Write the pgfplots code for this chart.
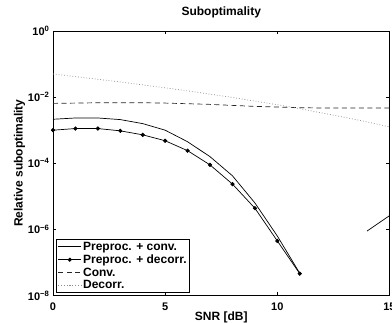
\documentclass[border=0pt]{standalone}
\usepackage{fontspec}
\setmainfont{Liberation Sans}
\usepackage{pgfplots}
\pgfplotsset{compat=1.18}
\begin{document}
\begin{tikzpicture}
\begin{axis}[
  scale only axis, width=336.5pt, height=264.5pt,
  ymode=log, xmin=0, xmax=15, ymin=1e-8, ymax=1,
  xtick={0,5,10,15}, xticklabels={0,5,10,15},
  ytick={1e-8,1e-6,1e-4,1e-2,1},
  yticklabels={10\textsuperscript{−8},10\textsuperscript{−6},10\textsuperscript{−4},10\textsuperscript{−2},10\textsuperscript{0}},
  minor y tick style={draw=none},
  tick align=inside, major tick length=3.5pt,
  tick style={black, line width=0.6pt},
  axis line style={line width=0.9pt},
  ticklabel style={font=\bfseries\fontsize{11}{13}\selectfont},
  xticklabel style={anchor=base, yshift=-15.2pt},
  title={Suboptimality},
  title style={font=\bfseries\fontsize{12}{14}\selectfont, at={(axis description cs:0.5,1)}, anchor=base, yshift=9.3pt},
  xlabel={SNR [dB]},
  xlabel style={font=\bfseries\fontsize{12}{14}\selectfont, at={(axis description cs:0.5,0)}, anchor=base, yshift=-25.3pt},
  ylabel={Relative suboptimality},
  ylabel style={font=\bfseries\fontsize{12}{14}\selectfont, at={(axis description cs:-0.09,0.5)}, anchor=base, rotate=0},
  legend style={at={(axis description cs:0.009,0.01)}, anchor=south west, draw=black, line width=0.8pt,
    font=\bfseries\fontsize{12}{14}\selectfont, inner xsep=1.5pt, inner ysep=0.5pt, row sep=0pt,
    nodes={inner sep=1.5pt}},
  legend cell align=left,
  legend image code/.code={\draw[mark repeat=2,mark phase=2,#1] plot coordinates {(0pt,0pt) (11.5pt,0pt) (23pt,0pt)};},
  unbounded coords=jump,
]
\addplot[black, line width=0.7pt] coordinates {
 (0,2.14e-3) (1,2.34e-3) (2,2.34e-3) (3,2.09e-3) (4,1.58e-3) (5,1.0e-3)
 (6,4.47e-4) (7,1.58e-4) (8,4.17e-5) (9,6.3e-6) (10,6.3e-7) (11,4.68e-8)
 (12,nan) (13,nan) (14,8.9e-7) (15,2.6e-6)};
\addlegendentry{Preproc. + conv.}
\addplot[black, line width=0.7pt, mark=*, mark size=1.7pt] coordinates {
 (0,1.0e-3) (1,1.12e-3) (2,1.12e-3) (3,9.55e-4) (4,7.24e-4) (5,4.79e-4)
 (6,2.40e-4) (7,8.91e-5) (8,2.34e-5) (9,4.37e-6) (10,4.47e-7) (11,4.57e-8)};
\addlegendentry{Preproc. + decorr.}
\addplot[black!85, line width=0.7pt, dash pattern=on 5pt off 3.5pt] coordinates {
 (0,6.46e-3) (1,6.6e-3) (2,6.76e-3) (3,6.76e-3) (4,6.76e-3) (5,6.6e-3)
 (6,6.31e-3) (7,6.03e-3) (8,5.62e-3) (9,5.25e-3) (10,5.01e-3) (11,4.79e-3)
 (12,4.68e-3) (13,4.68e-3) (14,4.68e-3) (15,4.68e-3)};
\addlegendentry{Conv.}
\addplot[black!45, line width=0.7pt, dash pattern=on 0.8pt off 2pt] coordinates {
 (0,5.01e-2) (1,4.17e-2) (2,3.47e-2) (3,2.88e-2) (4,2.34e-2) (5,1.91e-2)
 (6,1.55e-2) (7,1.23e-2) (8,9.77e-3) (9,7.59e-3) (10,5.89e-3) (11,4.47e-3)
 (12,3.31e-3) (13,2.45e-3) (14,1.78e-3) (15,1.26e-3)};
\addlegendentry{Decorr.}
\end{axis}
\pgfresetboundingbox
\path ([shift={(-53pt,-27.5pt)}]current axis.south west) rectangle ([shift={(2.5pt,31pt)}]current axis.north east);
\end{tikzpicture}
\end{document}
